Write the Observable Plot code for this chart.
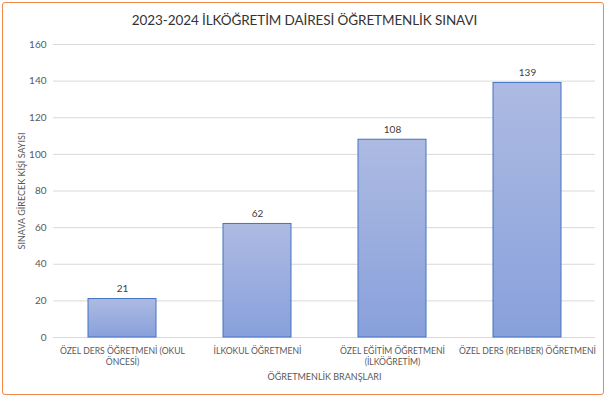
<!DOCTYPE html>
<html><head><meta charset="utf-8">
<script src="https://cdn.jsdelivr.net/npm/d3@7"></script>
<script src="https://cdn.jsdelivr.net/npm/@observablehq/plot@0.6"></script>
<style>
body{margin:0;background:#fff;}
#wrap{position:relative;width:609px;height:399px;overflow:hidden;font-family:Lato,"Open Sans",sans-serif;}
#border{position:absolute;left:2px;top:2px;width:600px;height:391px;border:1.5px solid #f0894a;border-radius:3px;pointer-events:none;}
#title{position:absolute;left:0;top:0;width:609px;height:38px;line-height:40px;text-align:center;font-size:13.5px;color:#333;letter-spacing:-0.1px;}
#chart{position:absolute;left:0;top:38px;}
</style></head>
<body>
<div id="wrap"><div id="title">2023-2024 İLKÖĞRETİM DAİRESİ ÖĞRETMENLİK SINAVI</div><div id="chart"></div><div id="border"></div></div>
<script>
const categories = ["ÖZEL DERS ÖĞRETMENİ (OKUL\nÖNCESİ)", "İLKOKUL ÖĞRETMENİ", "ÖZEL EĞİTİM ÖĞRETMENİ\n(İLKÖĞRETİM)", "ÖZEL DERS (REHBER) ÖĞRETMENİ"];
const values = [21, 62, 108, 139];
const yTicks = [0, 20, 40, 60, 80, 100, 120, 140, 160];
const xTitle = "ÖĞRETMENLİK BRANŞLARI";
const yTitle = "SINAVA GİRECEK KİŞİ SAYISI";

const data = categories.map((c, i) => ({cat: c, val: values[i]}));

const chart = Plot.plot({
  width: 609,
  height: 361,
  marginTop: 6,
  marginBottom: 62,
  marginLeft: 53,
  marginRight: 14,
  style: {fontFamily: "Lato, 'Open Sans', sans-serif", fontSize: "9px", color: "#595959", background: "transparent"},
  x: {domain: categories, paddingInner: 0.5, paddingOuter: 0.25, label: null},
  y: {domain: [0, 160], label: null},
  marks: [
    Plot.gridY(yTicks, {stroke: "#d9d9d9", strokeOpacity: 1}),
    Plot.axisY({ticks: yTicks, tickSize: 0, tickPadding: 7, fontSize: 10, label: null}),
    Plot.axisX({tickSize: 0, tickPadding: 8, fontSize: 8.6, label: null, lineHeight: 1.35}),
    Plot.barY(data, {x: "cat", y: "val", fill: "url(#barGrad)", stroke: "#4472c4", strokeWidth: 1}),
    Plot.text(data, {x: "cat", y: "val", text: d => String(d.val), dy: -10, fontSize: 10, fill: "#404040"}),
    Plot.text([xTitle], {frameAnchor: "bottom", lineAnchor: "middle", dy: 40, text: d => d, fontSize: 9, fill: "#595959"}),
    Plot.text([yTitle], {frameAnchor: "left", textAnchor: "middle", lineAnchor: "middle", dx: -31, rotate: -90, text: d => d, fontSize: 9, fill: "#595959"})
  ]
});

const ns = "http://www.w3.org/2000/svg";
const defs = document.createElementNS(ns, "defs");
defs.innerHTML = '<linearGradient id="barGrad" x1="0" y1="0" x2="0" y2="1"><stop offset="0" stop-color="#adbbe2"/><stop offset="1" stop-color="#88a0db"/></linearGradient>';
chart.insertBefore(defs, chart.firstChild);
document.getElementById("chart").appendChild(chart);
</script>
</body></html>
